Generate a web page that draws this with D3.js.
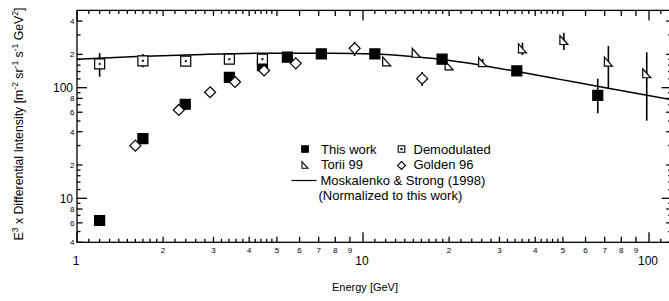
<!DOCTYPE html>
<html>
<head>
<meta charset="utf-8">
<script src="https://cdn.jsdelivr.net/npm/d3@7"></script>
<style>
  body { margin: 0; background: #fff; }
  svg { display: block; font-family: "Liberation Sans", Arial, sans-serif; }
  text { fill: #000; }
</style>
</head>
<body>
<div id="chart"></div>
<script>
// values (E in GeV, E^3 x intensity)
var thisWorkE = [1.2, 1.7, 2.39, 3.41, 4.45, 5.44, 7.15, 11.0, 18.9, 34.5, 66.2];
var thisWorkI = [6.3, 34.6, 70.8, 124, 158, 189, 202, 202, 181, 142, 85.3];
var thisWorkLo = [null, null, null, null, null, null, null, null, null, null, 58.7];
var thisWorkHi = [null, null, null, null, null, null, null, null, null, null, 120.6];

var demodE = [1.2, 1.7, 2.4, 3.41, 4.45];
var demodI = [164, 175, 174, 181, 181];
var demodLo = [126, 153, null, null, null];
var demodHi = [205, 202, null, null, null];

var toriiE = [12.1, 15.35, 20.0, 26.2, 36.1, 50.4, 72.1, 98.2];
var toriiI = [173, 207, 159, 170, 227, 270, 172, 135];
var toriiLo = [null, null, null, 160, 197, 219, 98.8, 50.3];
var toriiHi = [null, null, null, 182, 255, 314, 238, 209];

var goldenE = [1.6, 2.27, 2.92, 3.57, 4.51, 5.82, 9.35, 16.1];
var goldenI = [29.9, 62.9, 90.9, 112.6, 143, 166, 227, 120.6];
var goldenLo = [null, null, null, null, null, null, 193.5, 103.6];
var goldenHi = [null, null, null, null, null, null, 260.6, 138.6];

var modelE = [1, 1.62, 2.76, 4.73, 7.67, 11.0, 15.2, 20.1, 27.8, 35.4, 48.8, 67.4, 98.4, 118];
var modelI = [181, 191, 200, 205, 205, 202, 190, 176, 155, 138.4, 118.9, 102, 85.4, 78.5];

var xMajor = [1, 10, 100];
var xMid = [2, 3, 4, 5, 6, 7, 8, 9, 20, 30, 40, 50, 60, 70, 80, 90];
var yMajor = [10, 100];
var yMid = [4, 6, 8, 20, 40, 60, 80, 200, 400];

var left = 77, bottom = 242.3;
var decX = 286, decY = 110.6;

var x = d3.scaleLog().domain([1, 120]).range([left, left + decX * Math.log10(120)]);
var y = d3.scaleLog().domain([4, 500]).range([bottom, bottom - decY * Math.log10(125)]);

var x0 = x.range()[0], x1 = x.range()[1], y0 = y.range()[0], y1 = y.range()[1];

// minor tick positions
var xMinor = [];
[1, 10, 100].forEach(function(d) {
    for (var i = 1.1; i < 1.95; i += 0.1) xMinor.push(d * i);
    for (var j = 2.2; j < 4.95; j += 0.2) { if (Math.abs(j - Math.round(j)) > 0.05) xMinor.push(d * j); }
});
xMinor = xMinor.filter(function(d) { return d < 120; });
var yMinor = [5, 7, 9, 12, 14, 16, 18, 30, 50, 70, 90, 120, 140, 160, 180, 300];

var svg = d3.select('#chart').append('svg')
    .attr('width', 669)
    .attr('height', 301);

var axes = svg.append('g').attr('stroke', '#000').attr('stroke-width', 1.3);

function xTicks(vals, len) {
    axes.append('g').selectAll('line').data(vals).enter().append('line')
        .attr('x1', function(d) { return x(d); }).attr('x2', function(d) { return x(d); })
        .attr('y1', y0).attr('y2', y0 - len);
    axes.append('g').selectAll('line').data(vals).enter().append('line')
        .attr('x1', function(d) { return x(d); }).attr('x2', function(d) { return x(d); })
        .attr('y1', y1).attr('y2', y1 + len);
}
function yTicks(vals, len) {
    axes.append('g').selectAll('line').data(vals).enter().append('line')
        .attr('y1', function(d) { return y(d); }).attr('y2', function(d) { return y(d); })
        .attr('x1', x0).attr('x2', x0 + len);
    axes.append('g').selectAll('line').data(vals).enter().append('line')
        .attr('y1', function(d) { return y(d); }).attr('y2', function(d) { return y(d); })
        .attr('x1', x1).attr('x2', x1 - len);
}
xTicks(xMinor, 3.5);
xTicks(xMid, 5.5);
xTicks(xMajor, 10);
yTicks(yMinor, 3.5);
yTicks(yMid, 5.5);
yTicks(yMajor, 10);

axes.append('rect')
    .attr('x', x0).attr('y', y1)
    .attr('width', x1 - x0).attr('height', y0 - y1)
    .attr('fill', 'none');

// tick labels
var firstDigit = function(d) { return String(d)[0]; };
svg.append('g').selectAll('text').data(xMid).enter().append('text')
    .attr('x', function(d) { return x(d); }).attr('y', 252.5)
    .attr('text-anchor', 'middle').attr('font-size', '8px')
    .text(firstDigit);
svg.append('g').selectAll('text').data(xMajor).enter().append('text')
    .attr('x', function(d) { return x(d) - 1; }).attr('y', 265)
    .attr('text-anchor', 'middle').attr('font-size', '12px')
    .text(function(d) { return d; });
svg.append('g').selectAll('text').data(yMid).enter().append('text')
    .attr('x', 74.5).attr('y', function(d) { return y(d) + 3; })
    .attr('text-anchor', 'end').attr('font-size', '8px')
    .text(firstDigit);
svg.append('g').selectAll('text').data(yMajor).enter().append('text')
    .attr('x', 73).attr('y', function(d) { return y(d) + 4.5; })
    .attr('text-anchor', 'end').attr('font-size', '12px')
    .text(function(d) { return d; });

// axis titles
svg.append('text')
    .attr('x', 365).attr('y', 291)
    .attr('text-anchor', 'middle').attr('font-size', '11px')
    .text('Energy [GeV]');

var yt = svg.append('text')
    .attr('transform', 'translate(22.5,124) rotate(-90)')
    .attr('text-anchor', 'middle').attr('font-size', '12.3px');
var parts = [['E', 0], ['3', 1], [' x Differential Intensity [m', 0], ['-2', 1], [' sr', 0], ['-1', 1],
             [' s', 0], ['-1', 1], [' GeV', 0], ['2', 1], [']', 0]];
var up = false;
parts.forEach(function(p) {
    var t = yt.append('tspan').text(p[0]);
    if (p[1] && !up) { t.attr('dy', -5).attr('font-size', '8.5px'); up = true; }
    else if (!p[1] && up) { t.attr('dy', 5); up = false; }
});

// model curve
var line = d3.line()
    .x(function(d, i) { return x(modelE[i]); })
    .y(function(d) { return y(d); })
    .curve(d3.curveMonotoneX);
svg.append('path')
    .datum(modelI)
    .attr('d', line)
    .attr('fill', 'none').attr('stroke', '#000').attr('stroke-width', 1.5);

// error bars
function bars(E, lo, hi) {
    var idx = d3.range(E.length).filter(function(i) { return lo[i] != null; });
    svg.append('g').selectAll('line').data(idx).enter().append('line')
        .attr('x1', function(i) { return x(E[i]); }).attr('x2', function(i) { return x(E[i]); })
        .attr('y1', function(i) { return y(lo[i]); }).attr('y2', function(i) { return y(hi[i]); })
        .attr('stroke', '#000').attr('stroke-width', 1.6);
}
bars(thisWorkE, thisWorkLo, thisWorkHi);
bars(demodE, demodLo, demodHi);
bars(toriiE, toriiLo, toriiHi);
bars(goldenE, goldenLo, goldenHi);

// marker shapes
function squarePath(s) { return 'M' + (-s) + ',' + (-s) + 'H' + s + 'V' + s + 'H' + (-s) + 'Z'; }
function diamondPath(s) { return 'M0,' + (-s) + 'L' + s + ',0L0,' + s + 'L' + (-s) + ',0Z'; }
function triPath(w, h) { return 'M' + (-w) + ',' + (-h) + 'L' + (-w) + ',' + h + 'L' + w + ',' + h + 'Z'; }

function markers(E, I, d, fill) {
    return svg.append('g').selectAll('path').data(I).enter().append('path')
        .attr('transform', function(v, i) { return 'translate(' + x(E[i]) + ',' + y(v) + ')'; })
        .attr('d', d)
        .attr('fill', fill).attr('stroke', '#000').attr('stroke-width', 1.2);
}

markers(toriiE, toriiI, triPath(4, 4.5), '#fff');
markers(thisWorkE, thisWorkI, squarePath(5), '#000');
markers(demodE, demodI, squarePath(5), '#fff');
markers(demodE, demodI, squarePath(0.7), '#000').attr('stroke-width', 0.6);
markers(goldenE, goldenI, diamondPath(5.5), '#fff');

// legend
var leg = svg.append('g').attr('font-size', '13px');
function legMark(cx, cy, d, fill) {
    leg.append('path').attr('transform', 'translate(' + cx + ',' + cy + ')')
        .attr('d', d).attr('fill', fill).attr('stroke', '#000').attr('stroke-width', 1.1);
}
legMark(305, 149, squarePath(3.3), '#000');
legMark(401.5, 149, squarePath(3.3), '#fff');
legMark(401.5, 149, squarePath(0.5), '#000');
legMark(305, 165, triPath(3, 3.3), '#fff');
legMark(401.5, 165.5, diamondPath(4), '#fff');
leg.append('line').attr('x1', 291.5).attr('x2', 316.5).attr('y1', 180.5).attr('y2', 180.5)
    .attr('stroke', '#000').attr('stroke-width', 1.2);

var legText = [['This work', 321, 153.5], ['Demodulated', 413.5, 153.5], ['Torii 99', 321, 169],
               ['Golden 96', 413.5, 169], ['Moskalenko & Strong (1998)', 320.5, 185],
               ['(Normalized to this work)', 318.5, 199.5]];
leg.selectAll('text').data(legText).enter().append('text')
    .attr('x', function(d) { return d[1]; }).attr('y', function(d) { return d[2]; })
    .text(function(d) { return d[0]; });
</script>
</body>
</html>
